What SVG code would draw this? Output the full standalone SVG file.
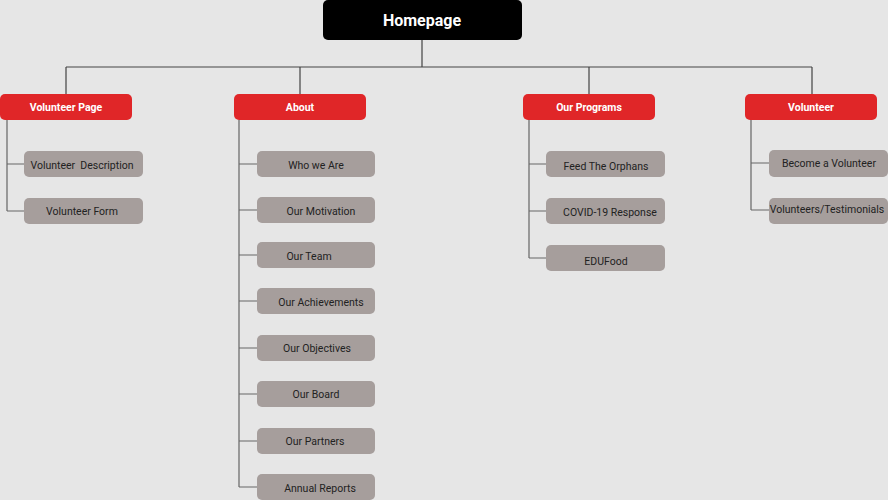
<svg xmlns="http://www.w3.org/2000/svg" width="888" height="500" viewBox="0 0 888 500">
<style>
.bg{fill:#e6e6e6}
.root rect{fill:#000}
.root text{fill:#fff;font:bold 16px Roboto,"Liberation Sans",sans-serif;text-anchor:middle;dominant-baseline:central}
.sec rect{fill:#e02628}
.sec text{fill:#fff;font:bold 10.5px Roboto,"Liberation Sans",sans-serif;text-anchor:middle;dominant-baseline:central}
.leaf rect{fill:#a69e9c}
.leaf text{fill:#222;font:10.5px Roboto,"Liberation Sans",sans-serif;text-anchor:middle;dominant-baseline:central}
.conn path{fill:none;stroke:#444;stroke-width:1.2}
.conn .sp{stroke:#666}
</style>
<rect class="bg" x="0" y="0" width="888" height="500"/>
<g class="conn">
<path d="M422,40V67M66,67H812M66,67V94M300,67V94M589,67V94M812,67V94"/>
<path class="sp" d="M7,120V211M7,164H24M7,211H24"/>
<path class="sp" d="M239,120V487M239,164H257M239,210H257M239,255H257M239,301H257M239,348H257M239,394H257M239,441H257M239,487H257"/>
<path class="sp" d="M529,120V258M529,164H546M529,211H546M529,258H546"/>
<path class="sp" d="M751,120V210M751,163H769M751,210H769"/>
</g>
<g id="homepage" class="root"><rect x="323" y="0" width="199" height="40" rx="5"/><text x="422" y="20">Homepage</text></g>
<g id="volunteer-page" class="sec"><rect x="0" y="94" width="132" height="26" rx="5"/><text x="66" y="107">Volunteer Page</text></g>
<g id="about" class="sec"><rect x="234" y="94" width="132" height="26" rx="5"/><text x="300" y="107">About</text></g>
<g id="our-programs" class="sec"><rect x="523" y="94" width="132" height="26" rx="5"/><text x="589" y="107">Our Programs</text></g>
<g id="volunteer" class="sec"><rect x="745" y="94" width="132" height="26" rx="5"/><text x="811" y="107">Volunteer</text></g>
<g id="volunteer-description" class="leaf"><rect x="24" y="151" width="119" height="26" rx="5"/><text x="82" y="165" xml:space="preserve">Volunteer  Description</text></g>
<g id="volunteer-form" class="leaf"><rect x="24" y="198" width="119" height="26" rx="5"/><text x="82" y="211">Volunteer Form</text></g>
<g id="who-we-are" class="leaf"><rect x="257" y="151" width="118" height="26" rx="5"/><text x="316" y="165">Who we Are</text></g>
<g id="our-motivation" class="leaf"><rect x="257" y="197" width="118" height="26" rx="5"/><text x="321" y="211">Our Motivation</text></g>
<g id="our-team" class="leaf"><rect x="257" y="242" width="118" height="26" rx="5"/><text x="309" y="256">Our Team</text></g>
<g id="our-achievements" class="leaf"><rect x="257" y="288" width="118" height="26" rx="5"/><text x="321" y="302">Our Achievements</text></g>
<g id="our-objectives" class="leaf"><rect x="257" y="335" width="118" height="26" rx="5"/><text x="317" y="348">Our Objectives</text></g>
<g id="our-board" class="leaf"><rect x="257" y="381" width="118" height="26" rx="5"/><text x="316" y="394">Our Board</text></g>
<g id="our-partners" class="leaf"><rect x="257" y="428" width="118" height="26" rx="5"/><text x="315" y="441">Our Partners</text></g>
<g id="annual-reports" class="leaf"><rect x="257" y="474" width="118" height="26" rx="5"/><text x="320" y="488">Annual Reports</text></g>
<g id="feed-the-orphans" class="leaf"><rect x="546" y="151" width="119" height="26" rx="5"/><text x="606" y="166">Feed The Orphans</text></g>
<g id="covid-19-response" class="leaf"><rect x="546" y="198" width="119" height="26" rx="5"/><text x="610" y="212">COVID-19 Response</text></g>
<g id="edufood" class="leaf"><rect x="546" y="245" width="119" height="26" rx="5"/><text x="606" y="261">EDUFood</text></g>
<g id="become-a-volunteer" class="leaf"><rect x="769" y="150" width="119" height="27" rx="5"/><text x="829" y="163">Become a Volunteer</text></g>
<g id="volunteers-testimonials" class="leaf"><rect x="769" y="198" width="119" height="26" rx="5"/><text x="827" y="209">Volunteers/Testimonials</text></g>
</svg>
